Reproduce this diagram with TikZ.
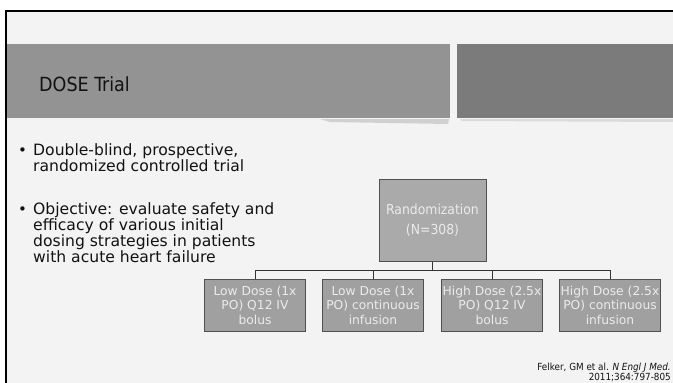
\documentclass[tikz,border=0pt]{standalone}
\usepackage{fontspec}
\setmainfont{DejaVu Sans}
\newfontfamily\condfont{DejaVu Sans Condensed}
\usetikzlibrary{positioning}
\definecolor{bgc}{HTML}{F3F3F3}
\definecolor{titlebar}{HTML}{939393}
\definecolor{darksq}{HTML}{7B7B7B}
\definecolor{boxfill}{HTML}{A0A0A0}
\definecolor{randfill}{HTML}{AAAAAA}
\definecolor{boxline}{HTML}{505050}
\definecolor{boxtext}{HTML}{EBEBEB}
\definecolor{bodytext}{HTML}{121212}
\tikzset{
  bodyline/.style={anchor=base west, inner sep=0pt, text=bodytext, font=\fontsize{15.6}{16}\selectfont},
  bulletdot/.style={anchor=base west, inner sep=0pt, text=bodytext, font=\fontsize{15}{16}\selectfont},
  childbox/.style={draw=boxline, line width=1pt, fill=boxfill, minimum width=101pt, minimum height=52pt, inner sep=0pt, align=center, text=boxtext, font=\fontsize{12.3}{14.5}\selectfont},
  randbox/.style={draw=boxline, line width=1pt, fill=randfill, minimum width=107pt, minimum height=82pt, inner sep=0pt, align=center, text=boxtext, font=\condfont\fontsize{13.8}{19.5}\selectfont},
  citetext/.style={anchor=base east, inner sep=0pt, text=bodytext, font=\condfont\fontsize{9.8}{12}\selectfont},
  conn/.style={draw=black!80, line width=1pt},
}
\begin{document}
\begin{tikzpicture}[x=1pt,y=-1pt]
\useasboundingbox (0,0) rectangle (673,383);
% background and frame
\fill[white] (0,0) rectangle (673,383);
\fill[bgc] (6,11) rectangle (680,390);
\draw[black, line width=2pt] (6,395) -- (6,11) -- (680,11);
% title bars with shadow
\fill[black, opacity=0.14] (320,119) -- (449,119) -- (448,124) -- (330,122) -- cycle;
\fill[black, opacity=0.10] (460,119) -- (673,119) -- (673,122) -- (462,121) -- cycle;
\fill[titlebar] (7,44) rectangle (450,118);
\fill[darksq] (457,44) rectangle (680,118);
\node[anchor=base west, inner sep=0pt, text=bodytext, font=\condfont\fontsize{19.5}{24}\selectfont] (title) at (39,91) {DOSE Trial};
% bullets
\node[bulletdot] (b1) at (18,155) {•};
\node[bodyline] (l1) at (33,155) {Double-blind, prospective,};
\node[bodyline] (l2) at (33,171) {randomized controlled trial};
\node[bulletdot] (b2) at (18,214) {•};
\node[bodyline] (l3) at (33,214) {Objective: evaluate safety and};
\node[bodyline] (l4) at (33,230) {efficacy of various initial};
\node[bodyline] (l5) at (33,246) {dosing strategies in patients};
\node[bodyline] (l6) at (33,262) {with acute heart failure};
% org chart
\node[randbox] (rand) at (432.5,220) {Randomization\\(N=308)};
\node[childbox] (c1) at (255,305) {Low Dose (1x\\PO) Q12 IV\\bolus};
\node[childbox] (c2) at (373,305) {Low Dose (1x\\PO) continuous\\infusion};
\node[childbox] (c3) at (492,305) {High Dose (2.5x\\PO) Q12 IV\\bolus};
\node[childbox] (c4) at (610,305) {High Dose (2.5x\\PO) continuous\\infusion};
\coordinate (hub) at (432.5,270);
\coordinate (h1) at (255,270);
\coordinate (h2) at (373,270);
\coordinate (h3) at (492,270);
\coordinate (h4) at (610,270);
\draw[conn] (rand.south) -- (hub);
\draw[conn] (h1) -- (h4);
\draw[conn] (h1) -- (c1.north);
\draw[conn] (h2) -- (c2.north);
\draw[conn] (h3) -- (c3.north);
\draw[conn] (h4) -- (c4.north);
% citation
\node[citetext] (cite1) at (671,370) {Felker, GM et al. \textit{N Engl J Med.}};
\node[citetext] (cite2) at (671,380.5) {2011;364:797-805};
\end{tikzpicture}
\end{document}
